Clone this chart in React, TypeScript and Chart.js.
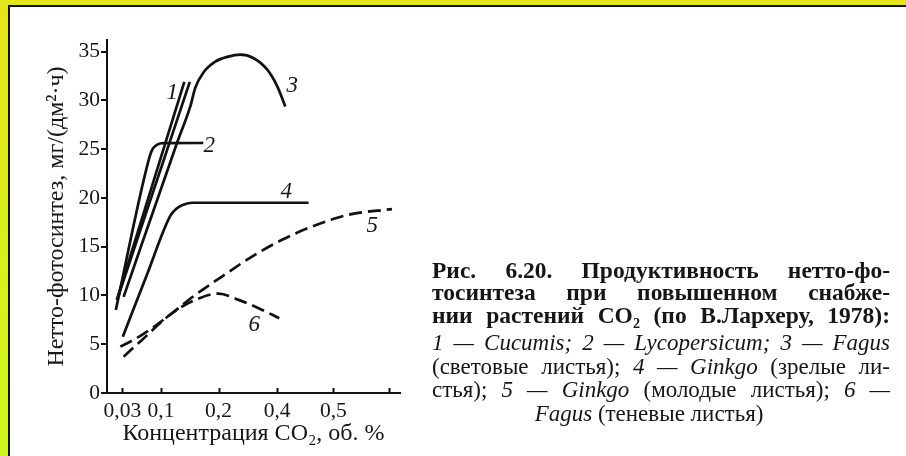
import React, { useEffect, useRef } from 'react';
import { Chart, registerables } from 'chart.js';

Chart.register(...registerables);

// ---- axis ticks (positions along the printed, non-uniform CO2 axis) ----
const X_TICK_POSITIONS = [0.27, 0.95, 1.96, 2.99, 3.98, 4.95];
const X_TICK_LABELS = ['0,03', '0,1', '0,2', '0,4', '0,5', ''];
const Y_TICK_VALUES = [0, 5, 10, 15, 20, 25, 30, 35];

// ---- series (x = position on the CO2 axis, y = net photosynthesis) ----
const CUCUMIS_A_X = [0.172, 1.359];
const CUCUMIS_A_Y = [9.55, 31.9];
const CUCUMIS_B_X = [0.207, 1.455];
const CUCUMIS_B_Y = [10.06, 31.9];
const LYCOPERSICUM_X = [0.155, 0.725, 0.795, 0.883, 0.989, 1.692];
const LYCOPERSICUM_Y = [8.52, 23.72, 24.95, 25.46, 25.62, 25.64];
const FAGUS_SUN_X = [0.292, 1.23, 1.464, 1.552, 1.692, 1.903, 2.132, 2.343, 2.571, 2.817, 2.993, 3.134];
const FAGUS_SUN_Y = [9.86, 25.64, 29.39, 31.31, 32.85, 33.98, 34.5, 34.7, 34.36, 33.16, 31.45, 29.39];
const GINKGO_MATURE_X = [0.278, 0.7, 1.112, 1.218, 1.341, 1.499, 3.543];
const GINKGO_MATURE_Y = [5.78, 12.1, 18.17, 18.89, 19.3, 19.51, 19.51];
const GINKGO_YOUNG_X = [0.234, 0.615, 1.142, 1.552, 2.021, 2.548, 3.076, 3.603, 4.246, 5.009];
const GINKGO_YOUNG_Y = [4.75, 5.95, 8.18, 10.06, 11.94, 13.99, 15.71, 17.07, 18.28, 18.86];
const FAGUS_SHADE_X = [0.292, 0.615, 1.142, 1.552, 1.961, 2.313, 2.664, 3.028];
const FAGUS_SHADE_Y = [3.73, 5.44, 8.18, 9.55, 10.2, 9.55, 8.7, 7.67];

// ---- curve number labels ----
const CURVE_LABELS = ['1', '2', '3', '4', '5', '6'];
const CURVE_LABEL_X = [1.148, 1.798, 3.257, 3.151, 4.662, 2.589];
const CURVE_LABEL_Y = [30.8, 25.36, 31.52, 20.64, 17.15, 6.98];

// ---- caption ----
type Sty = 'b' | 'n' | 'i';
const CAPTION_LINES: [string, Sty][][] = [
  [['Рис.', 'b'], ['6.20.', 'b'], ['Продуктивность', 'b'], ['нетто-фо-', 'b']],
  [['тосинтеза', 'b'], ['при', 'b'], ['повышенном', 'b'], ['снабже-', 'b']],
  [['нии', 'b'], ['растений', 'b'], ['CO₂', 'b'], ['(по', 'b'], ['В.Лархеру,', 'b'], ['1978):', 'b']],
  [['1', 'i'], ['—', 'i'], ['Cucumis;', 'i'], ['2', 'i'], ['—', 'i'], ['Lycopersicum;', 'i'], ['3', 'i'], ['—', 'i'], ['Fagus', 'i']],
  [['(световые', 'n'], ['листья);', 'n'], ['4', 'i'], ['—', 'i'], ['Ginkgo', 'i'], ['(зрелые', 'n'], ['ли-', 'n']],
  [['стья);', 'n'], ['5', 'i'], ['—', 'i'], ['Ginkgo', 'i'], ['(молодые', 'n'], ['листья);', 'n'], ['6', 'i'], ['—', 'i']],
  [['Fagus', 'i'], ['(теневые', 'n'], ['листья)', 'n']],
];
const CAPTION_BASELINES = [278, 300, 323, 350, 374, 397, 421];

const INK = '#111111';
const TEXT = '#161616';
const FONT = "'Liberation Serif', 'DejaVu Serif', serif";

export default function App() {
  const ref = useRef<HTMLCanvasElement>(null);

  useEffect(() => {
    document.body.style.margin = '0';
    const canvas = ref.current;
    if (!canvas) return;

    const pts = (xs: number[], ys: number[]) => xs.map((x, i) => ({ x, y: ys[i] }));
    const ds = (label: string, xs: number[], ys: number[], dashed: boolean) => ({
      label,
      data: pts(xs, ys),
      borderColor: INK,
      borderWidth: 2.7,
      pointRadius: 0,
      fill: false,
      cubicInterpolationMode: 'monotone' as const,
      borderDash: dashed ? [13, 6] : [],
      borderCapStyle: 'butt' as const,
      borderJoinStyle: 'round' as const,
    });

    const framePlugin = {
      id: 'frame',
      beforeDraw(chart: any) {
        const ctx = chart.ctx as CanvasRenderingContext2D;
        const W = chart.width, H = chart.height;
        ctx.save();
        ctx.fillStyle = '#ffffff';
        ctx.fillRect(0, 0, W, H);
        ctx.fillStyle = '#e5e51b';
        ctx.fillRect(0, 0, W, 5);
        const g = ctx.createLinearGradient(0, 0, 0, H);
        g.addColorStop(0, '#e6e41b');
        g.addColorStop(1, '#cdf41e');
        ctx.fillStyle = g;
        ctx.fillRect(0, 0, 8, H);
        ctx.fillStyle = '#111';
        ctx.fillRect(8, 5, W - 8, 2);
        ctx.fillRect(8, 5, 2, H - 5);
        ctx.restore();
      },
    };

    const annotPlugin = {
      id: 'annot',
      afterDraw(chart: any) {
        const ctx = chart.ctx as CanvasRenderingContext2D;
        const xs = chart.scales.x, ys = chart.scales.y;
        ctx.save();
        // inward x tick marks
        ctx.strokeStyle = INK;
        ctx.lineWidth = 2;
        const b = chart.chartArea.bottom;
        X_TICK_POSITIONS.forEach((v) => {
          const px = Math.round(xs.getPixelForValue(v)) + 0.5;
          ctx.beginPath();
          ctx.moveTo(px, b);
          ctx.lineTo(px, b - 5);
          ctx.stroke();
        });
        // curve numbers
        ctx.fillStyle = TEXT;
        ctx.font = `italic 23px ${FONT}`;
        ctx.textAlign = 'center';
        ctx.textBaseline = 'middle';
        CURVE_LABELS.forEach((t, i) => {
          ctx.fillText(t, xs.getPixelForValue(CURVE_LABEL_X[i]), ys.getPixelForValue(CURVE_LABEL_Y[i]));
        });
        // caption
        const left = 432, right = 890;
        ctx.textAlign = 'left';
        ctx.textBaseline = 'alphabetic';
        const fontFor = (s: Sty) =>
          s === 'b' ? `bold 23.5px ${FONT}` : s === 'i' ? `italic 23px ${FONT}` : `23px ${FONT}`;
        CAPTION_LINES.forEach((words, li) => {
          const widths = words.map(([t, s]) => {
            ctx.font = fontFor(s);
            return ctx.measureText(t).width;
          });
          const total = widths.reduce((a, c) => a + c, 0);
          const last = li === CAPTION_LINES.length - 1;
          let gap: number;
          let x: number;
          if (last) {
            ctx.font = fontFor('n');
            gap = ctx.measureText(' ').width;
            const w = total + gap * (words.length - 1);
            x = 649 - w / 2;
          } else {
            gap = (right - left - total) / (words.length - 1);
            x = left;
          }
          words.forEach(([t, s], wi) => {
            ctx.font = fontFor(s);
            ctx.fillText(t, x, CAPTION_BASELINES[li]);
            x += widths[wi] + gap;
          });
        });
        ctx.restore();
      },
    };

    const chart = new Chart(canvas, {
      type: 'line',
      data: {
        datasets: [
          ds('1 Cucumis', CUCUMIS_A_X, CUCUMIS_A_Y, false),
          ds('1 Cucumis (b)', CUCUMIS_B_X, CUCUMIS_B_Y, false),
          ds('2 Lycopersicum', LYCOPERSICUM_X, LYCOPERSICUM_Y, false),
          ds('3 Fagus (световые)', FAGUS_SUN_X, FAGUS_SUN_Y, false),
          ds('4 Ginkgo (зрелые)', GINKGO_MATURE_X, GINKGO_MATURE_Y, false),
          ds('5 Ginkgo (молодые)', GINKGO_YOUNG_X, GINKGO_YOUNG_Y, true),
          ds('6 Fagus (теневые)', FAGUS_SHADE_X, FAGUS_SHADE_Y, true),
        ],
      },
      options: {
        animation: false,
        responsive: false,
        maintainAspectRatio: false,
        layout: { padding: { left: 10, top: 40, right: 506, bottom: 0 } },
        plugins: { legend: { display: false }, tooltip: { enabled: false } },
        scales: {
          x: {
            type: 'linear',
            min: 0,
            max: 5.15,
            afterBuildTicks: (s: any) => {
              s.ticks = X_TICK_POSITIONS.map((v) => ({ value: v }));
            },
            afterFit: (s: any) => {
              s.height = 63;
            },
            grid: { display: false },
            border: { display: true, color: INK, width: 2 },
            ticks: {
              autoSkip: false,
              maxRotation: 0,
              padding: -3,
              color: TEXT,
              font: { family: FONT, size: 21.5 },
              callback: (_v: any, i: number) => X_TICK_LABELS[i],
            },
            title: {
              display: true,
              text: 'Концентрация CO₂, об. %',
              color: TEXT,
              font: { family: FONT, size: 24 },
              padding: { top: 0, bottom: 8 },
            },
          },
          y: {
            type: 'linear',
            min: 0,
            max: 36.2,
            afterBuildTicks: (s: any) => {
              s.ticks = Y_TICK_VALUES.map((v) => ({ value: v }));
            },
            afterFit: (s: any) => {
              s.width = 97;
            },
            grid: {
              display: true,
              drawOnChartArea: false,
              drawTicks: true,
              tickLength: 6,
              color: INK,
              lineWidth: 2,
            },
            border: { display: true, color: INK, width: 2 },
            ticks: {
              padding: 1,
              color: TEXT,
              font: { family: FONT, size: 21.5 },
              callback: (v: any) => String(v),
            },
            title: {
              display: true,
              text: 'Нетто-фотосинтез, мг/(дм²·ч)',
              color: TEXT,
              font: { family: FONT, size: 24 },
              padding: { top: 32.5, bottom: 0 },
            },
          },
        },
      },
      plugins: [framePlugin, annotPlugin],
    } as any);

    return () => chart.destroy();
  }, []);

  return (
    <div style={{ position: 'absolute', left: 0, top: 0, width: 906, height: 456 }}>
      <canvas ref={ref} width={906} height={456} style={{ display: 'block', width: 906, height: 456 }} />
    </div>
  );
}
